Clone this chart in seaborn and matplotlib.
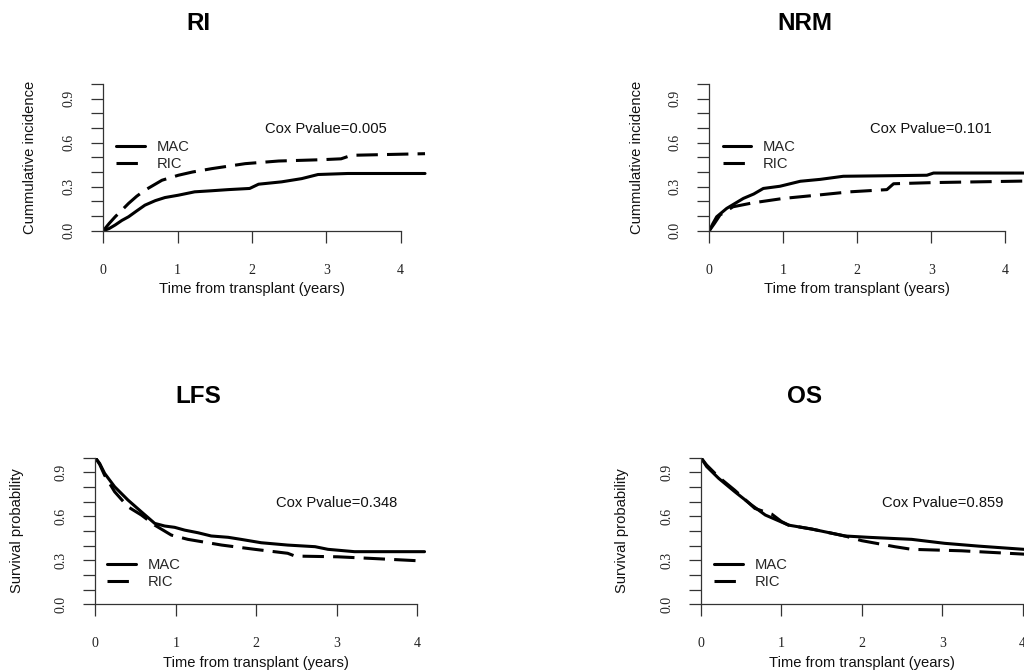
import numpy as np
import pandas as pd
import matplotlib
matplotlib.use("Agg")
import matplotlib.pyplot as plt
import seaborn as sns

# ---------------- data ----------------
groups = ["MAC", "RIC"]
panel_titles = ["RI", "NRM", "LFS", "OS"]
y_labels = ["Cummulative incidence", "Cummulative incidence",
            "Survival probability", "Survival probability"]
x_label = "Time from transplant (years)"
cox_texts = ["Cox Pvalue=0.005", "Cox Pvalue=0.101",
             "Cox Pvalue=0.348", "Cox Pvalue=0.859"]
x_ticks = [0, 1, 2, 3, 4]
y_ticks = [0.0, 0.1, 0.2, 0.3, 0.4, 0.5, 0.6, 0.7, 0.8, 0.9, 1.0]
y_tick_labels = ["0.0", "", "", "0.3", "", "", "0.6", "", "", "0.9", ""]

ri_mac_t = [0, 0.08, 0.16, 0.25, 0.34, 0.45, 0.56, 0.70, 0.83, 1.01, 1.23, 1.45,
            1.68, 1.97, 2.09, 2.40, 2.67, 2.89, 3.29, 4.33]
ri_mac_p = [0, 0.015, 0.039, 0.07, 0.095, 0.135, 0.174, 0.205, 0.226, 0.242, 0.265,
            0.272, 0.28, 0.288, 0.317, 0.333, 0.355, 0.383, 0.39, 0.39]
ri_ric_t = [0, 0.08, 0.16, 0.25, 0.34, 0.45, 0.56, 0.79, 1.01, 1.2, 1.46, 1.91,
            2.36, 2.94, 3.2, 3.34, 4.33]
ri_ric_p = [0, 0.05, 0.095, 0.14, 0.186, 0.235, 0.276, 0.344, 0.378, 0.40, 0.423,
            0.457, 0.475, 0.484, 0.49, 0.514, 0.525]

nrm_mac_t = [0, 0.05, 0.1, 0.235, 0.46, 0.6, 0.73, 0.955, 1.23, 1.5, 1.81, 2.94,
             3.03, 4.33]
nrm_mac_p = [0, 0.05, 0.095, 0.152, 0.22, 0.25, 0.288, 0.303, 0.337, 0.35, 0.371,
             0.378, 0.393, 0.393]
nrm_ric_t = [0, 0.07, 0.145, 0.32, 0.59, 1.0, 1.45, 1.9, 2.4, 2.49, 3.03, 4.33]
nrm_ric_p = [0, 0.05, 0.107, 0.163, 0.19, 0.22, 0.242, 0.265, 0.28, 0.32, 0.328,
             0.339]

lfs_mac_t = [0, 0.054, 0.116, 0.24, 0.406, 0.572, 0.738, 0.862, 0.986, 1.11, 1.276,
             1.44, 1.65, 1.81, 2.06, 2.39, 2.73, 2.89, 3.22, 4.09]
lfs_mac_p = [1.0, 0.961, 0.893, 0.802, 0.711, 0.631, 0.552, 0.534, 0.525, 0.506,
             0.488, 0.466, 0.457, 0.443, 0.42, 0.404, 0.393, 0.375, 0.359, 0.359]
lfs_ric_t = [0, 0.054, 0.116, 0.24, 0.406, 0.572, 0.738, 0.945, 1.15, 1.57, 1.98,
             2.39, 2.48, 3.01, 3.43, 4.01]
lfs_ric_p = [1.0, 0.955, 0.88, 0.768, 0.665, 0.609, 0.54, 0.472, 0.443, 0.404,
             0.375, 0.348, 0.329, 0.324, 0.313, 0.297]

os_mac_t = [0, 0.07, 0.22, 0.42, 0.63, 0.80, 1.09, 1.38, 1.79, 2.08, 2.62, 3.03,
            3.45, 4.09]
os_mac_p = [1.0, 0.94, 0.859, 0.768, 0.677, 0.609, 0.54, 0.513, 0.466, 0.457,
            0.443, 0.416, 0.397, 0.372]
os_ric_t = [0, 0.07, 0.22, 0.42, 0.67, 0.80, 0.88, 1.0, 1.09, 1.38, 1.79, 2.0,
            2.41, 2.62, 3.24, 4.09]
os_ric_p = [1.0, 0.95, 0.868, 0.778, 0.654, 0.63, 0.615, 0.565, 0.54, 0.513,
            0.466, 0.434, 0.393, 0.375, 0.365, 0.34]

curves = [
    ((ri_mac_t, ri_mac_p), (ri_ric_t, ri_ric_p)),
    ((nrm_mac_t, nrm_mac_p), (nrm_ric_t, nrm_ric_p)),
    ((lfs_mac_t, lfs_mac_p), (lfs_ric_t, lfs_ric_p)),
    ((os_mac_t, os_mac_p), (os_ric_t, os_ric_p)),
]

# ---------------- layout (pixels) ----------------
W, H = 1024, 671
layouts = [
    dict(left=103.3, y0=230.7, y1=84.0, ppy=74.3, xmax=4.4, ylab_dx=-73.3,
         leg=(12.7, 155.8), title=(198.5, 23.5)),
    dict(left=709.3, y0=230.7, y1=84.0, ppy=74.0, xmax=4.4, ylab_dx=-72.3,
         leg=(13.4, 155.5), title=(805.0, 23.5)),
    dict(left=95.3, y0=604.3, y1=457.7, ppy=80.5, xmax=4.15, ylab_dx=-78.3,
         leg=(12.0, 573.5), title=(198.3, 396.7)),
    dict(left=701.0, y0=604.3, y1=457.7, ppy=80.4, xmax=4.15, ylab_dx=-79.3,
         leg=(13.0, 573.5), title=(805.0, 396.7)),
]

sns.set_theme(style="white")
plt.rcParams['font.family'] = ['Liberation Sans', 'DejaVu Sans']

fig = plt.figure(figsize=(W / 100, H / 100), dpi=100)

axis_col = "#333333"
lw = 2.2
dash = (7, 3)
text_fs = 10.6
tick_fs = 10
tick_len_pt = 12.3 * 72 / 100

for i, L in enumerate(layouts):
    width_px = L["ppy"] * L["xmax"]
    height_px = L["y0"] - L["y1"]
    ax = fig.add_axes([L["left"] / W, 1 - L["y0"] / H, width_px / W, height_px / H])
    ax.set_facecolor("none")

    (mt, mp), (rt, rp) = curves[i]
    df = pd.concat([
        pd.DataFrame({"t": mt, "p": mp, "group": groups[0]}),
        pd.DataFrame({"t": rt, "p": rp, "group": groups[1]}),
    ], ignore_index=True)
    sns.lineplot(data=df, x="t", y="p", style="group", style_order=groups,
                 dashes={"MAC": "", "RIC": dash}, color="black", linewidth=lw,
                 sort=False, estimator=None, legend=False, ax=ax)

    ax.set_xlim(0, L["xmax"])
    ax.set_ylim(0, 1.0)

    for s in ["top", "right"]:
        ax.spines[s].set_visible(False)
    for s in ["left", "bottom"]:
        ax.spines[s].set_color(axis_col)
        ax.spines[s].set_linewidth(0.9)
    ax.spines["left"].set_bounds(0, 1)
    ax.spines["bottom"].set_bounds(0, 4)

    ax.set_xticks(x_ticks)
    ax.set_xticklabels([str(v) for v in x_ticks])
    ax.set_yticks(y_ticks)
    ax.set_yticklabels(y_tick_labels, rotation=90, va="center")
    ax.tick_params(axis="both", direction="out", length=tick_len_pt, width=0.9,
                   color=axis_col, labelcolor="#222222", labelsize=tick_fs,
                   labelfontfamily="Liberation Serif", left=True, bottom=True)
    ax.tick_params(axis="x", pad=15.0)
    ax.tick_params(axis="y", pad=11.0)
    ax.grid(False)

    ax.set_xlabel(x_label, fontsize=text_fs, va="center", color="#111111")
    ax.xaxis.set_label_coords(2 / L["xmax"], -58.3 / height_px)
    ax.set_ylabel(y_labels[i], fontsize=text_fs, va="center", color="#111111")
    ax.yaxis.set_label_coords(L["ylab_dx"] / width_px, 0.5)

    ax.text(3, 0.69, cox_texts[i], ha="center", va="center", fontsize=text_fs,
            color="#111111")

    handles = ax.get_lines()[:2]
    lx, ly = L["leg"]
    ax.legend(handles, groups, loc="center left",
              bbox_to_anchor=(lx / width_px, (L["y0"] - ly) / height_px),
              frameon=False, fontsize=text_fs, borderpad=0, borderaxespad=0,
              handlelength=1.94, handletextpad=0.8, labelspacing=0.2)

    fig.text(L["title"][0] / W, 1 - L["title"][1] / H, panel_titles[i],
             ha="center", va="center", fontsize=17.5, fontweight="bold",
             color="black")

fig.savefig("out.png", dpi=100)
